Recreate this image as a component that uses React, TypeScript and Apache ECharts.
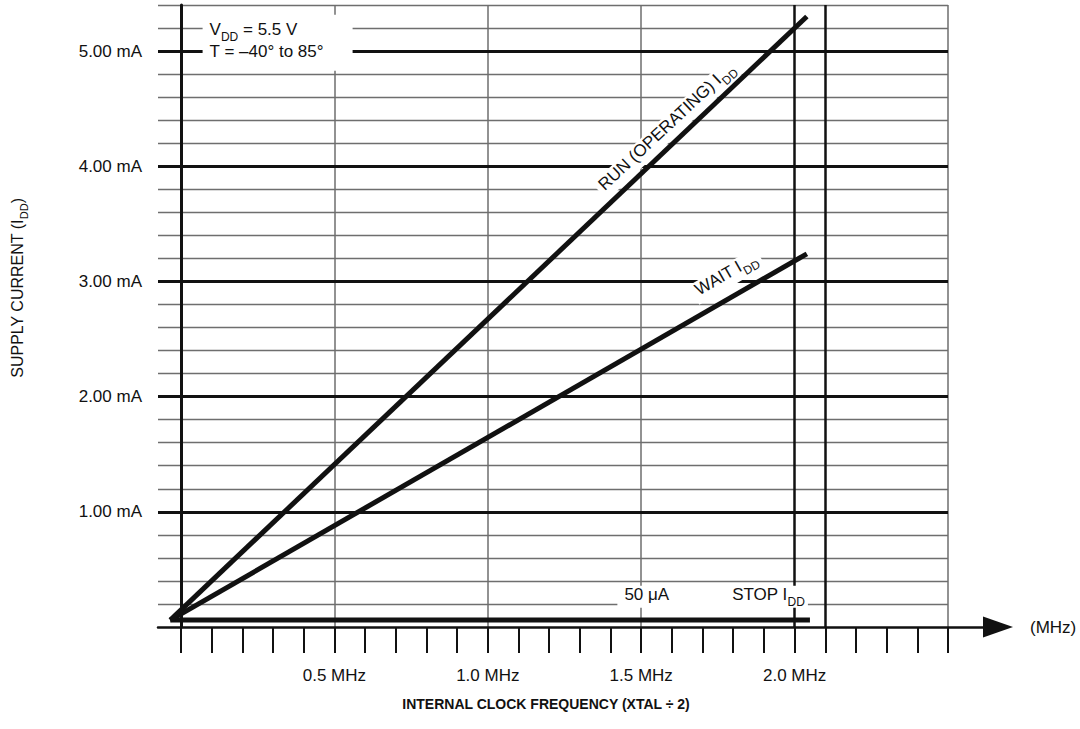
import React, { useEffect, useRef } from 'react';
import * as echarts from 'echarts';

const FONT = "'Liberation Sans', Arial, sans-serif";
const INK = '#111';
const GRAY = '#6e6e6e';

// Curves: x = internal clock frequency (MHz), y = supply current (mA)
const runCurve = [[-0.035, 0.06], [2.04, 5.3]];
const waitCurve = [[-0.035, 0.06], [2.04, 3.24]];
const stopCurve = [[-0.035, 0.06], [2.05, 0.06]];

// Axis ticks / labels
const xTickValues = [0, 0.1, 0.2, 0.3, 0.4, 0.5, 0.6, 0.7, 0.8, 0.9, 1.0, 1.1, 1.2, 1.3, 1.4, 1.5, 1.6, 1.7, 1.8, 1.9, 2.0, 2.1, 2.2, 2.3, 2.4, 2.5];
const xLabelValues = [0.5, 1.0, 1.5, 2.0];
const yLabelValues = [1, 2, 3, 4, 5];

// Grid lines
const minorLevels = [0.2, 0.4, 0.6, 0.8, 1.2, 1.4, 1.6, 1.8, 2.2, 2.4, 2.6, 2.8, 3.2, 3.4, 3.6, 3.8, 4.2, 4.4, 4.6, 4.8, 5.2, 5.4];
const majorLevels = [1, 2, 3, 4, 5];
const grayVerticals = [0.5, 1.0, 1.5, 2.5];
const blackVerticals = [2.0, 2.1];

const X_MIN = -0.075;
const X_MAX = 2.663;
const X_GRID_END = 2.5;
const Y_MIN = 0;
const Y_MAX = 5.4;

const rich: any = {
  n: { fontSize: 17, fontFamily: FONT, color: INK, lineHeight: 22, verticalAlign: 'top' },
  s: { fontSize: 12, fontFamily: FONT, color: INK, lineHeight: 10, padding: [13, 0, 0, 0], verticalAlign: 'bottom' },
  gap: { width: 63, fontSize: 17, lineHeight: 22, verticalAlign: 'top' },
};

function gridSeries(name: string, segs: number[][][], color: string, width: number, z: number) {
  return {
    name,
    type: 'line',
    data: [],
    silent: true,
    z,
    markLine: {
      silent: true,
      animation: false,
      symbol: ['none', 'none'],
      label: { show: false },
      emphasis: { disabled: true },
      lineStyle: { color, width, type: 'solid' },
      data: segs.map(([a, b]) => [{ coord: a }, { coord: b }]),
    },
  };
}

function curveSeries(name: string, data: number[][]) {
  return {
    name,
    type: 'line',
    data,
    symbol: 'none',
    silent: true,
    z: 5,
    clip: false,
    lineStyle: { color: INK, width: 5, cap: 'butt' },
  };
}

export default function App() {
  const ref = useRef<HTMLDivElement>(null);

  useEffect(() => {
    if (!ref.current) return;
    const chart = echarts.init(ref.current, undefined, { renderer: 'svg' });

    const hMinor = minorLevels.map((v) => [[X_MIN, v], [X_GRID_END, v]]);
    const hMajor = majorLevels.map((v) => [[X_MIN, v], [X_GRID_END, v]]);
    const vGray = grayVerticals.map((v) => [[v, Y_MIN], [v, Y_MAX]]);
    const vBlack = blackVerticals.map((v) => [[v, Y_MIN], [v, Y_MAX]]);

    const option: any = {
      animation: false,
      backgroundColor: '#fff',
      grid: { left: 158, right: 82, top: 5, bottom: 102, containLabel: false, outerBoundsMode: 'none' },
      xAxis: {
        type: 'value',
        min: X_MIN,
        max: X_MAX,
        z: 6,
        axisLine: {
          show: true,
          onZero: true,
          symbol: ['none', 'triangle'],
          symbolSize: [21, 30],
          lineStyle: { color: INK, width: 2.5 },
        },
        axisTick: {
          show: true,
          customValues: xTickValues,
          length: 26,
          inside: false,
          lineStyle: { color: INK, width: 2 },
        },
        axisLabel: {
          show: true,
          customValues: xLabelValues,
          formatter: (v: number) => v.toFixed(1) + ' MHz',
          margin: 40,
          color: INK,
          fontSize: 17,
          fontFamily: FONT,
        },
        splitLine: { show: false },
        name: '(MHz)',
        nameLocation: 'end',
        nameGap: 32,
        nameTextStyle: { color: INK, fontSize: 17, fontFamily: FONT, align: 'left', verticalAlign: 'middle' },
      },
      yAxis: {
        type: 'value',
        min: Y_MIN,
        max: Y_MAX,
        z: 6,
        axisLine: { show: true, onZero: true, lineStyle: { color: INK, width: 3 } },
        axisTick: { show: false },
        splitLine: { show: false },
        axisLabel: {
          show: true,
          customValues: yLabelValues,
          formatter: (v: number) => v.toFixed(2) + ' mA',
          margin: 16,
          padding: [6, 0, 0, 0],
          color: INK,
          fontSize: 17,
          fontFamily: FONT,
        },
      },
      series: [
        gridSeries('minorH', hMinor, GRAY, 1.3, 1),
        gridSeries('grayV', vGray, GRAY, 1.5, 1),
        gridSeries('majorH', hMajor, INK, 3, 2),
        gridSeries('blackV', vBlack, INK, 2.5, 2),
        {
          name: 'labels',
          type: 'line',
          data: [],
          silent: true,
          z: 3,
          markPoint: {
            silent: true,
            animation: false,
            symbol: 'rect',
            symbolSize: 1,
            itemStyle: { color: 'rgba(0,0,0,0)' },
            data: [
              {
                coord: [0.072, 5.312],
                label: {
                  show: true,
                  position: [0, 0],
                  align: 'left',
                  verticalAlign: 'top',
                  backgroundColor: '#fff',
                  padding: [6, 7, 6, 7],
                  width: 136,
                  formatter: '{n|V}{s|DD}{n| = 5.5 V}\n{n|T = \u201340\u00b0 to 85\u00b0}',
                  rich,
                },
              },
              {
                coord: [1.587, 4.33],
                label: {
                  show: true,
                  position: 'inside',
                  rotate: 43,
                  backgroundColor: '#fff',
                  padding: [0, 4],
                  formatter: '{n|RUN (OPERATING) I}{s|DD}',
                  rich,
                },
              },
              {
                coord: [1.78, 3.047],
                label: {
                  show: true,
                  position: 'inside',
                  rotate: 30,
                  backgroundColor: '#fff',
                  padding: [0, 4],
                  formatter: '{n|WAIT I}{s|DD}',
                  rich,
                },
              },
              {
                coord: [1.424, 0.353],
                label: {
                  show: true,
                  position: [0, 0],
                  align: 'left',
                  verticalAlign: 'top',
                  backgroundColor: '#fff',
                  padding: [0, 3, 0, 7],
                  formatter: '{n|50 \u03bcA}{gap| }{n|STOP I}{s|DD}',
                  rich,
                },
              },
            ],
          },
        },
        curveSeries('stop', stopCurve),
        curveSeries('wait', waitCurve),
        curveSeries('run', runCurve),
      ],
      graphic: [
        {
          type: 'text',
          x: 19,
          y: 288,
          rotation: Math.PI / 2,
          style: {
            text: '{n|SUPPLY CURRENT (I}{s|DD}{n|)}',
            rich: {
              n: { fontSize: 16, fontFamily: FONT, fill: INK, lineHeight: 20, verticalAlign: 'top' },
              s: { fontSize: 11, fontFamily: FONT, fill: INK, lineHeight: 9, padding: [12, 0, 0, 0], verticalAlign: 'bottom' },
            },
            align: 'center',
            verticalAlign: 'middle',
            fill: INK,
          },
        },
        {
          type: 'text',
          x: 546,
          y: 704,
          style: {
            text: 'INTERNAL CLOCK FREQUENCY (XTAL \u00f7 2)',
            fontSize: 14,
            fontWeight: 'bold',
            fontFamily: FONT,
            fill: INK,
            align: 'center',
            verticalAlign: 'middle',
          },
        },
      ],
    };

    chart.setOption(option);
    return () => chart.dispose();
  }, []);

  return (
    <div
      ref={ref}
      style={{ position: 'absolute', left: 0, top: 0, width: 1080, height: 729, background: '#fff' }}
    />
  );
}
